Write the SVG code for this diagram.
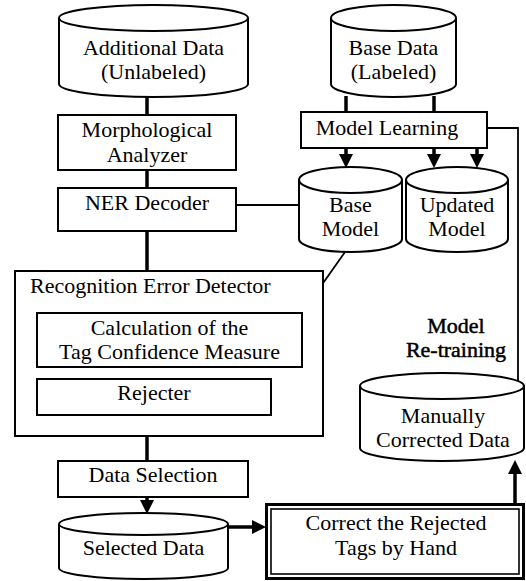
<svg xmlns="http://www.w3.org/2000/svg" width="526" height="581" viewBox="0 0 526 581" font-family="'Liberation Serif', 'Times New Roman', 'DejaVu Serif', serif">
<style>
  .shape { fill: #fff; stroke: #000; stroke-width: 2; }
  text { font-family: 'Liberation Serif', 'Times New Roman', 'DejaVu Serif', serif; font-size: 22px; fill: #000; text-anchor: middle; }
  .thick { stroke: #000; stroke-width: 3.5; fill: none; }
  .thin { stroke: #000; stroke-width: 1.8; fill: none; }
  .head { fill: #000; stroke: none; }
</style>
<rect width="526" height="581" fill="#fff"/>

<g id="connectors">
  <line class="thick" x1="147" y1="97" x2="147" y2="115"/>
  <line class="thick" x1="147" y1="170" x2="147" y2="188"/>
  <line class="thick" x1="147" y1="231" x2="147" y2="271"/>
  <line class="thin" x1="147" y1="367" x2="147" y2="379"/>
  <line class="thick" x1="147" y1="436" x2="147" y2="461"/>
  <line class="thick" x1="147" y1="497" x2="147" y2="502"/>
  <polygon class="head" points="140,500 154,500 147,514"/>
  <line class="thin" x1="236" y1="205" x2="299" y2="205"/>
  <line class="thin" x1="345" y1="252" x2="302" y2="313"/>
  <line class="thick" x1="346" y1="96" x2="346" y2="112"/>
  <line class="thick" x1="434" y1="96" x2="434" y2="112"/>
  <line class="thick" x1="346" y1="148" x2="346" y2="156"/>
  <polygon class="head" points="339,154 353,154 346,168"/>
  <line class="thick" x1="434" y1="148" x2="434" y2="156"/>
  <polygon class="head" points="427,154 441,154 434,168"/>
  <polyline class="thin" points="518,391 518,128 477,128 477,156"/>
  <line class="thick" x1="477" y1="128" x2="477" y2="156"/>
  <polygon class="head" points="470,154 484,154 477,168"/>
  <line class="thick" x1="228" y1="527" x2="254" y2="527"/>
  <polygon class="head" points="252,520 252,534 266,527"/>
  <line class="thick" x1="515" y1="503" x2="515" y2="472"/>
  <polygon class="head" points="508,474 522,474 515,460"/>
</g>

<g id="additional-data">
  <path class="shape" d="M59,18 L59,84 A94.5,13 0 0 0 248,84 L248,18"/>
  <ellipse class="shape" cx="153.5" cy="18" rx="94.5" ry="13"/>
  <text x="153.5" y="55">Additional Data</text>
  <text x="153.5" y="79">(Unlabeled)</text>
</g>

<g id="base-data">
  <path class="shape" d="M331,18 L331,84 A62.5,13 0 0 0 456,84 L456,18"/>
  <ellipse class="shape" cx="393.5" cy="18" rx="62.5" ry="13"/>
  <text x="393.5" y="55">Base Data</text>
  <text x="393.5" y="79">(Labeled)</text>
</g>

<g id="morphological-analyzer">
  <rect class="shape" x="58" y="115" width="178" height="55"/>
  <text x="147" y="137">Morphological</text>
  <text x="147" y="162">Analyzer</text>
</g>

<g id="model-learning">
  <rect class="shape" x="301" y="112" width="186" height="36"/>
  <text x="387" y="135">Model Learning</text>
</g>

<g id="ner-decoder">
  <rect class="shape" x="58" y="188" width="178" height="43"/>
  <text x="147" y="210">NER Decoder</text>
</g>

<g id="base-model">
  <path class="shape" d="M299,180 L299,239 A51.5,13 0 0 0 402,239 L402,180"/>
  <ellipse class="shape" cx="350.5" cy="180" rx="51.5" ry="13"/>
  <text x="350.5" y="212">Base</text>
  <text x="350.5" y="236">Model</text>
</g>

<g id="updated-model">
  <path class="shape" d="M406,180 L406,239 A51,13 0 0 0 508,239 L508,180"/>
  <ellipse class="shape" cx="457" cy="180" rx="51" ry="13"/>
  <text x="457" y="212">Updated</text>
  <text x="457" y="236">Model</text>
</g>

<g id="recognition-error-detector">
  <rect class="shape" x="15" y="271" width="308" height="165"/>
  <text x="30" y="293" style="text-anchor:start">Recognition Error Detector</text>
</g>

<g id="tag-confidence">
  <rect class="shape" x="37" y="313" width="265" height="54"/>
  <text x="169.5" y="335">Calculation of the</text>
  <text x="169.5" y="359">Tag Confidence Measure</text>
</g>

<g id="rejecter">
  <rect class="shape" x="37" y="379" width="234" height="36"/>
  <text x="154" y="400">Rejecter</text>
</g>

<g id="model-retraining-label">
  <text x="456" y="333" stroke="#000" stroke-width="0.5">Model</text>
  <text x="456" y="357" stroke="#000" stroke-width="0.5">Re-training</text>
</g>

<g id="manually-corrected-data">
  <path class="shape" d="M360,386 L360,448 A82,13 0 0 0 524,448 L524,386"/>
  <ellipse class="shape" cx="442" cy="386" rx="82" ry="13"/>
  <text x="443" y="423">Manually</text>
  <text x="443" y="447">Corrected Data</text>
</g>

<g id="data-selection">
  <rect class="shape" x="58" y="461" width="190" height="36"/>
  <text x="153" y="482">Data Selection</text>
</g>

<g id="selected-data">
  <path class="shape" d="M59,524 L59,568 A84.5,11 0 0 0 228,568 L228,524"/>
  <ellipse class="shape" cx="143.5" cy="524" rx="84.5" ry="11"/>
  <text x="143.5" y="555">Selected Data</text>
</g>

<g id="correct-by-hand">
  <rect x="266.5" y="504.5" width="257" height="74" fill="#fff" stroke="#000" stroke-width="3"/>
  <rect x="271" y="509" width="248" height="65" fill="none" stroke="#000" stroke-width="1.6"/>
  <text x="396" y="530">Correct the Rejected</text>
  <text x="396" y="555">Tags by Hand</text>
</g>
</svg>
